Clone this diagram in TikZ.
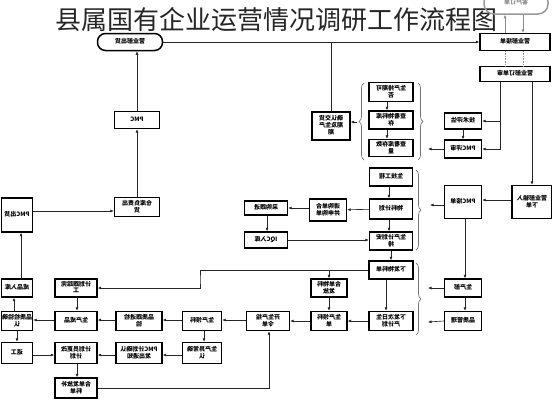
\documentclass[tikz,border=0pt]{standalone}
\usepackage{fontspec}
\setmainfont{Noto Sans CJK SC}
\usepackage{graphicx}
\usetikzlibrary{arrows.meta,decorations.pathreplacing,calc}
\newcommand\mt[1]{\reflectbox{\begin{tabular}{@{}c@{}}#1\end{tabular}}}
\renewcommand\arraystretch{0.8}
\begin{document}
\begin{tikzpicture}[x=1pt,y=-1pt,
  bx/.style={draw=black,line width=1.4pt,inner sep=0pt,align=center,
     font=\fontsize{6}{7}\selectfont\bfseries},
  sz/.style 2 args={minimum width=#1pt,minimum height=#2pt},
  ov/.style={draw=black,line width=1.5pt,rounded corners=8pt,inner sep=0pt,
     font=\fontsize{6}{7}\selectfont\bfseries},
  arr/.style={-{Latex[length=3.5pt,width=3pt]},line width=0.6pt,draw=black!85},
  ln/.style={line width=0.6pt,draw=black!85},
  garr/.style={-{Latex[length=3.5pt,width=3pt]},line width=0.6pt,draw=black!45},
  gdot/.style={line width=0.6pt,draw=black!45,densely dotted},
  brc/.style={decorate,decoration={brace,amplitude=5pt},line width=0.7pt,draw=black!55}]
\useasboundingbox (0,0) rectangle (552,400);
\fill[white] (0,0) rectangle (552,400);
% title
\node[font=\fontsize{26}{28}\selectfont,text=black!85] (title) at (277,20) {县属国有企业运营情况调研工作流程图};
% coordinates for vertical/horizontal lines
\coordinate (c505) at (505,0); \coordinate (c523) at (523,0);
\coordinate (c500) at (500,0); \coordinate (c532) at (532,0);
\coordinate (c387) at (387,0); \coordinate (c211) at (0,211);
\coordinate (c21) at (21,0); \coordinate (c14) at (14,0);
\coordinate (c77) at (77,0); \coordinate (c204) at (204,0);
\coordinate (c355) at (0,355); \coordinate (c269) at (269,0);
\coordinate (c389) at (389,0); \coordinate (c386) at (386,0);
\coordinate (c267) at (267,0); \coordinate (c205) at (0,205);
\coordinate (c200) at (0,200); \coordinate (c465) at (465,0);
\coordinate (c320) at (0,320);
% top area
\node[ov,draw=black!40,text=black!45,sz={64}{22},rounded corners=10pt] (kh) at (516,3) {\mt{客户订单}};
\node[bx,sz={70}{17}] (yjd) at (515,42) {\mt{营业部接单}};
\node[bx,sz={70}{15}] (ysh) at (515,74) {\mt{营业部订单审}};
\node[bx,sz={37}{16}] (js) at (463,121) {\mt{技术评估}};
\node[bx,sz={37}{18}] (ps) at (463,149) {\mt{PMC评审}};
\node[bx,sz={44}{19}] (g1) at (391,92) {\mt{生产排期可\\否}};
\node[bx,sz={44}{18}] (g2) at (391,120) {\mt{查看物料库\\存}};
\node[bx,sz={44}{17}] (g3) at (391,148) {\mt{查看库存数\\量}};
\node[bx,sz={38}{28}] (jq) at (331,126) {\mt{确认交货\\期及生产\\期}};
\node[ov,sz={65}{17}] (ych) at (130,42) {\mt{营业部出货}};
\node[bx,sz={45}{17}] (pmc) at (137,120) {\mt{PMC}};
\node[bx,sz={45}{19}] (ck) at (137,207) {\mt{仓库负责出\\货}};
\node[bx,sz={31}{34}] (pch) at (17,215) {\mt{PMC出货}};
\node[bx,sz={31}{18}] (cp) at (17,288) {\mt{成品入库}};
\node[bx,sz={31}{19}] (pj) at (17,321) {\mt{品质检验确\\认}};
\node[bx,sz={31}{21}] (fg) at (17,353) {\mt{返工}};
\node[bx,sz={42}{18}] (gz) at (76,288) {\mt{计划跟踪完\\工}};
\node[bx,sz={42}{19}] (sc) at (76,321) {\mt{生产成品}};
\node[bx,sz={42}{21}] (gg) at (76,353) {\mt{计划员更改\\计划}};
\node[bx,sz={42}{20}] (hb) at (76,388) {\mt{合单发放补\\料单}};
\node[bx,sz={46}{19}] (pz) at (139,321) {\mt{品质跟进检\\验}};
\node[bx,sz={46}{21}] (pq) at (139,353) {\mt{PMC计划确认\\发出通知}};
\node[bx,sz={39}{19}] (ll) at (202,321) {\mt{生产领料}};
\node[bx,sz={39}{21}] (yc) at (202,353) {\mt{生产异常确\\认}};
\node[bx,sz={43}{19}] (kd) at (268,321) {\mt{开生产指\\令单}};
\node[bx,sz={36}{18}] (hd) at (329,288) {\mt{合单物料\\发放}};
\node[bx,sz={36}{19}] (ld) at (329,321) {\mt{生产领料\\单}};
\node[bx,sz={44}{18}] (xw) at (391,270) {\mt{下发物料单}};
\node[bx,sz={44}{19}] (xr) at (391,321) {\mt{下发次日生\\产计划}};
\node[bx,sz={37}{18}] (scb) at (463,288) {\mt{生产部}};
\node[bx,sz={37}{19}] (pg) at (463,321) {\mt{品质管理}};
\node[bx,sz={43}{18}] (sj) at (391,177) {\mt{生技工程}};
\node[bx,sz={43}{20}] (wj) at (391,209) {\mt{物料计划}};
\node[bx,sz={43}{18}] (ap) at (391,241) {\mt{生产计划安\\排}};
\node[bx,sz={37}{33}] (pjd) at (463,202) {\mt{PMC接单}};
\node[bx,sz={40}{33}] (ysr) at (532,202) {\mt{营业部输入\\下单}};
\node[bx,sz={37}{22}] (xq) at (328,210) {\mt{请购单合\\并申购单}};
\node[bx,sz={43}{14}] (cg) at (266,208) {\mt{采购跟进}};
\node[bx,sz={43}{16}] (iqc) at (266,240) {\mt{IQC入库}};
% braces
\draw[brc] (364,160) -- (364,83);
\draw[brc] (418,83) -- (418,160);
\draw[brc] (416,170) -- (416,250);
\draw[brc] (416,263) -- (416,335);
\coordinate (b1l) at (357,122);
\coordinate (b1r) at (428,149);
\coordinate (b2r) at (430,205);
\coordinate (b3a) at (428,288);
\coordinate (b3b) at (428,322);
\coordinate (kb) at (200,280);
% connectors
\draw[garr] (yjd.north -| c505) -- (kh.south -| c505);
\draw[garr] (kh.south -| c523) -- (yjd.north -| c523);
\draw[gdot] (yjd.south -| c505) -- (ysh.north -| c505);
\draw[gdot] (yjd.south -| c523) -- (ysh.north -| c523);
\draw[arr] (ysh.south -| c500) |- (ps.east);
\draw[arr] (c500 |- js.east) -- (js.east);
\draw[arr] (ysh.south -| c532) -- (ysr.north -| c532);
\draw[arr] (js) -- (ps);
\draw[arr] (ps.west) -- (b1r);
\draw[arr] (g1.south -| c387) -- (g2.north -| c387);
\draw[arr] (g2.south -| c387) -- (g3.north -| c387);
\draw[arr] (b1l) -- (jq.east |- b1l);
\draw[arr] (ych.east) -- (yjd.west);
\draw[ln] (jq.north) -- (jq.north |- yjd.west);
\draw[arr] (pmc.north) -- (pmc.north |- ych.south);
\draw[arr] (ck) -- (pmc);
\draw[arr] (pch.east |- c211) -- (ck.west |- c211);
\draw[arr] (cp.north -| c21) -- (pch.south -| c21);
\draw[arr] (pj.north -| c14) -- (cp.south -| c14);
\draw[arr] (pj) -- (fg);
\draw[arr] (sc.west |- c320) -- (pj.east |- c320);
\draw[arr] (gz.south -| c77) -- (sc.north -| c77);
\draw[arr] (xw.west) -| (kb) |- (gz.east);
\draw[arr] (xw.west -| hd.north) -- (hd.north);
\draw[arr] (ap) -- (xw);
\draw[arr] (xw.south -| c386) -- (xr.north -| c386);
\draw[arr] (hd) -- (ld);
\draw[arr] (xr) -- (ld);
\draw[arr] (ld) -- (kd);
\draw[arr] (kd.west |- c320) -- (ll.east |- c320);
\draw[arr] (ll.west |- c320) -- (pz.east |- c320);
\draw[arr] (pz.west |- c320) -- (sc.east |- c320);
\draw[arr] (ll.south -| c204) -- (yc.north -| c204);
\draw[arr] (yc.west |- c355) -- (pq.east |- c355);
\draw[arr] (pq.west |- c355) -- (gg.east |- c355);
\draw[arr] (fg.east |- c355) -- (gg.west |- c355);
\draw[arr] (gg.south -| c77) -- (hb.north -| c77);
\draw[arr] (hb.east) -| (kd.south -| c269);
\draw[arr] (sj.south -| c389) -- (wj.north -| c389);
\draw[arr] (wj.south -| c389) -- (ap.north -| c389);
\draw[arr] (wj) -- (xq);
\draw[arr] (xq.west |- cg.east) -- (cg.east);
\draw[arr] (cg.south -| c267) -- (iqc.north -| c267);
\draw[arr] (iqc.east) -- (ap.west |- iqc.east);
\draw[arr] (pjd.west |- c205) -- (b2r);
\draw[arr] (ysr.west |- c200) -- (pjd.east |- c200);
\draw[arr] (pjd.south -| c465) -- (scb.north -| c465);
\draw[arr] (scb.south -| c465) -- (pg.north -| c465);
\draw[arr] (scb.west) -- (b3a);
\draw[arr] (pg.west) -- (b3b);
\end{tikzpicture}
\end{document}
